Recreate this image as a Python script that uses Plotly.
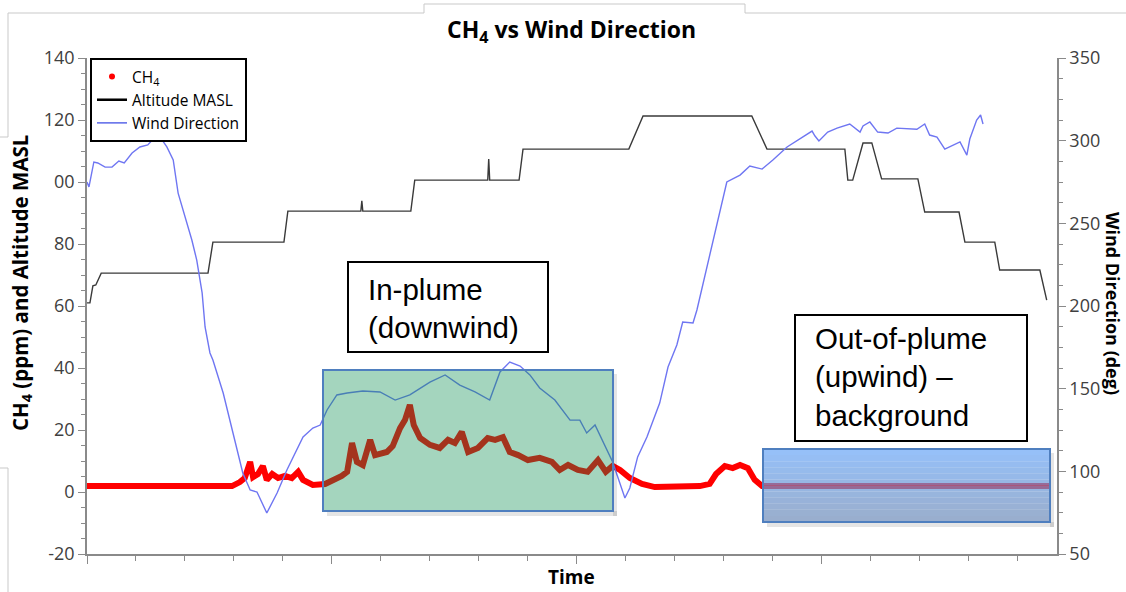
import plotly.graph_objects as go

# ---------------- data (time in minor-tick units) ----------------
ch4_time = [0, 2.96, 3.12, 3.22, 3.33, 3.39, 3.49, 3.59, 3.67, 3.78, 3.90, 4.04, 4.18, 4.31, 4.41,
            4.61, 4.86, 5.06, 5.20, 5.31, 5.41, 5.51, 5.63, 5.78, 5.88, 6.12, 6.24, 6.39, 6.49,
            6.59, 6.67, 6.80, 7.00, 7.20, 7.37, 7.51, 7.65, 7.78, 7.98, 8.18, 8.33, 8.49, 8.63,
            8.80, 9.00, 9.24, 9.49, 9.65, 9.82, 10.02, 10.22, 10.43, 10.59, 10.73, 10.88, 11.08,
            11.33, 11.59, 12.51, 12.71, 12.84, 13.02, 13.18, 13.33, 13.49, 13.63, 13.78, 19.65]
ch4_ppm = [1.9, 1.9, 3.2, 4.5, 9.7, 4.8, 5.8, 8.4, 3.9, 5.8, 4.5, 5.2, 4.5, 6.5, 3.9,
           2.3, 2.6, 3.9, 5.2, 6.5, 15.8, 9.7, 8.7, 16.8, 11.9, 12.9, 14.8, 20.6, 23.2,
           28.1, 21.6, 17.4, 15.2, 14.2, 16.8, 15.8, 19.4, 12.9, 14.2, 17.4, 16.8, 17.7, 12.9,
           11.9, 10.3, 11.0, 9.7, 7.1, 8.7, 7.1, 6.5, 10.3, 6.5, 8.4, 7.1, 4.5,
           2.6, 1.6, 1.9, 2.6, 5.8, 8.4, 7.7, 8.7, 7.7, 3.9, 1.9, 1.9]

alt_time = [0, 0.06, 0.12, 0.18, 0.29, 2.47, 2.57, 4.02, 4.10, 5.59, 5.61, 5.63, 6.61, 6.69,
            8.18, 8.20, 8.22, 8.82, 8.90, 11.06, 11.35, 13.57, 13.88, 15.47, 15.53, 15.63,
            15.84, 16.02, 16.22, 16.96, 17.10, 17.80, 17.92, 18.53, 18.63, 19.45, 19.59]
alt_masl = [61.0, 61.0, 66.5, 66.8, 70.6, 70.6, 80.6, 80.6, 90.6, 90.6, 93.9, 90.6, 90.6, 100.6,
            100.6, 107.4, 100.6, 100.6, 110.6, 110.6, 121.3, 121.3, 110.6, 110.6, 100.6, 100.6,
            112.6, 112.6, 101.0, 101.0, 90.3, 90.3, 80.6, 80.6, 71.6, 71.6, 61.9]

wind_time = [0, 0.04, 0.14, 0.22, 0.37, 0.51, 0.65, 0.76, 0.92, 1.08, 1.24, 1.45, 1.63, 1.76,
             1.86, 2.00, 2.14, 2.24, 2.35, 2.41, 2.51, 2.57, 2.78, 2.98, 3.18, 3.33, 3.47, 3.67,
             3.88, 4.08, 4.41, 4.61, 4.76, 4.90, 5.10, 5.31, 5.63, 5.98, 6.29, 6.59, 7.00, 7.31,
             7.61, 7.92, 8.22, 8.43, 8.63, 8.84, 9.04, 9.24, 9.55, 9.86, 10.06, 10.20, 10.37,
             10.73, 10.98, 11.08, 11.24, 11.43, 11.69, 11.86, 12.04, 12.16, 12.37, 12.45, 12.65,
             12.86, 13.06, 13.33, 13.53, 13.78, 14.00, 14.29, 14.55, 14.80, 14.86, 14.94, 15.12,
             15.31, 15.57, 15.78, 15.84, 15.98, 16.14, 16.35, 16.53, 16.94, 17.10, 17.20, 17.35,
             17.51, 17.82, 17.96, 18.02, 18.16, 18.24, 18.29]
wind_deg = [275.0, 272.0, 287.1, 286.5, 284.0, 284.0, 287.7, 286.5, 292.5, 296.2, 297.4, 304.0,
            296.2, 288.3, 268.3, 253.8, 239.9, 227.8, 207.9, 187.3, 171.6, 167.3, 147.4, 123.2,
            99.0, 88.7, 87.5, 74.8, 86.9, 100.8, 120.8, 126.2, 128.0, 137.1, 146.2, 147.4, 148.6,
            148.0, 143.1, 146.2, 154.0, 158.3, 152.2, 148.0, 143.1, 160.1, 166.1, 163.7, 158.3,
            150.4, 143.1, 131.0, 131.0, 123.2, 128.0, 105.6, 83.9, 89.9, 108.7, 120.8, 141.3,
            163.1, 176.4, 190.3, 189.7, 197.6, 223.6, 250.2, 275.0, 279.2, 284.7, 282.8, 288.3,
            296.2, 301.0, 305.8, 302.8, 299.8, 305.2, 307.6, 310.1, 305.2, 308.9, 311.3, 305.2,
            304.6, 307.6, 306.9, 310.1, 303.4, 302.2, 294.9, 299.2, 291.3, 301.0, 312.5, 315.5,
            310.1]

left_ticks = [-20, 0, 20, 40, 60, 80, 100, 120, 140]
left_ticktext = ["-20", "0", "20", "40", "60", "80", "00", "120", "140"]
right_ticks = [50, 100, 150, 200, 250, 300, 350]
x_major_ticks = [0, 5, 10, 15]

# ---------------- layout geometry ----------------
W, H = 1126, 592
L, R, T, B = 87, 1057, 58, 554


def px(x):
    return (x - L) / (R - L)


def py(y):
    return (B - y) / (B - T)


fig = go.Figure()

fig.add_trace(go.Scatter(x=ch4_time, y=ch4_ppm, mode="lines", line=dict(color="#ff0000", width=6),
                         showlegend=False, name="CH4"))
fig.add_trace(go.Scatter(x=alt_time, y=alt_masl, mode="lines", line=dict(color="#3a3a3a", width=1.4),
                         showlegend=False, name="Altitude MASL"))
fig.add_trace(go.Scatter(x=wind_time, y=wind_deg, mode="lines", line=dict(color="#6f76f2", width=1.4),
                         yaxis="y2", showlegend=False, name="Wind Direction"))

# legend-only entries
fig.add_trace(go.Scatter(x=[None], y=[None], mode="markers", marker=dict(color="#ff0000", size=6),
                         name="CH<sub>4</sub>"))
fig.add_trace(go.Scatter(x=[None], y=[None], mode="lines", line=dict(color="#000000", width=2.5),
                         name="Altitude MASL"))
fig.add_trace(go.Scatter(x=[None], y=[None], mode="lines", line=dict(color="#5b67e8", width=1.5),
                         name="Wind Direction"))

shapes = []
# frame artifacts
frame = "#c9c9c9"
for (x0, y0, x1, y1) in [(8, 13, 424, 13), (424, 13, 424, 4), (424, 4, 745, 4), (745, 4, 745, 13),
                         (745, 13, 1126, 13), (8, 13, 8, 137), (0, 137, 8, 137),
                         (0, 468, 8, 468), (8, 468, 8, 592)]:
    shapes.append(dict(type="line", xref="paper", yref="paper", x0=px(x0), y0=py(y0), x1=px(x1), y1=py(y1),
                       line=dict(color=frame, width=1), layer="above"))

# shadows
for (x0, y0, x1, y1) in [(323, 370, 613, 511), (763, 449, 1050, 522)]:
    shapes.append(dict(type="rect", xref="paper", yref="paper", x0=px(x0 + 4), y0=py(y1 + 5), x1=px(x1 + 4),
                       y1=py(y1), fillcolor="rgba(0,0,0,0.10)", line=dict(width=0), layer="above"))
    shapes.append(dict(type="rect", xref="paper", yref="paper", x0=px(x1), y0=py(y1 + 5), x1=px(x1 + 4),
                       y1=py(y0 + 4), fillcolor="rgba(0,0,0,0.10)", line=dict(width=0), layer="above"))

# green in-plume region
shapes.append(dict(type="rect", xref="paper", yref="paper", x0=px(323), y0=py(511), x1=px(613), y1=py(370),
                   fillcolor="rgba(8,140,80,0.37)", line=dict(color="#4f7fbf", width=2), layer="above"))

# blue out-of-plume region (gradient via strips)
bx0, by0, bx1, by1 = 763, 449, 1050, 522
n = 12
top_c = (105, 165, 245)
bot_c = (110, 140, 185)
for i in range(n):
    f = i / (n - 1)
    c = tuple(int(top_c[k] + (bot_c[k] - top_c[k]) * f) for k in range(3))
    ya = by0 + (by1 - by0) * i / n
    yb = by0 + (by1 - by0) * (i + 1) / n
    shapes.append(dict(type="rect", xref="paper", yref="paper", x0=px(bx0), y0=py(yb), x1=px(bx1), y1=py(ya),
                       fillcolor="rgba(%d,%d,%d,0.7)" % c, line=dict(width=0), layer="above"))
shapes.append(dict(type="rect", xref="paper", yref="paper", x0=px(bx0), y0=py(by1), x1=px(bx1), y1=py(by0),
                   fillcolor="rgba(0,0,0,0)", line=dict(color="#4f7fbf", width=2), layer="above"))

# text boxes
shapes.append(dict(type="rect", xref="paper", yref="paper", x0=px(348), y0=py(352), x1=px(548), y1=py(262),
                   fillcolor="white", line=dict(color="black", width=2), layer="above"))
shapes.append(dict(type="rect", xref="paper", yref="paper", x0=px(795), y0=py(441), x1=px(1027), y1=py(315),
                   fillcolor="white", line=dict(color="black", width=2), layer="above"))

box_font = dict(family="Liberation Sans, Arial", size=29.5, color="black")
annotations = [
    dict(text="In-plume<br>(downwind)", xref="paper", yref="paper", x=px(366), y=py(308),
         xanchor="left", yanchor="middle", align="left", showarrow=False, font=box_font),
    dict(text="Out-of-plume<br>(upwind) –<br>background", xref="paper", yref="paper", x=px(813), y=py(377),
         xanchor="left", yanchor="middle", align="left", showarrow=False, font=box_font),
    dict(text="<b>CH<sub>4</sub> (ppm) and Altitude MASL</b>", xref="paper", yref="paper", x=px(21), y=py(283),
         xanchor="center", yanchor="middle", textangle=-90, showarrow=False,
         font=dict(family="Open Sans", size=20.5, color="black")),
    dict(text="<b>Wind Direction (deg)</b>", xref="paper", yref="paper", x=px(1113), y=py(303),
         xanchor="center", yanchor="middle", textangle=90, showarrow=False,
         font=dict(family="Open Sans", size=18, color="black")),
    dict(text="<b>Time</b>", xref="paper", yref="paper", x=px(571), y=py(577),
         xanchor="center", yanchor="middle", showarrow=False,
         font=dict(family="Open Sans", size=19, color="black")),
    dict(text="<b>CH<sub>4</sub> vs Wind Direction</b>", xref="paper", yref="paper", x=px(571), y=py(30),
         xanchor="center", yanchor="middle", showarrow=False,
         font=dict(family="Open Sans", size=23, color="black")),
]

axis_col = "#8a8a8a"
tick_font = dict(family="Open Sans", size=18, color="#404040")

fig.update_layout(
    width=W, height=H,
    margin=dict(l=L, r=W - R, t=T, b=H - B),
    paper_bgcolor="white", plot_bgcolor="white",
    shapes=shapes, annotations=annotations,
    xaxis=dict(range=[0, 19.8], showgrid=False, zeroline=False, showline=True, linecolor=axis_col, linewidth=1.5,
               tickmode="array", tickvals=x_major_ticks, showticklabels=False, ticks="outside", ticklen=8,
               tickcolor=axis_col, tickwidth=1.2,
               minor=dict(dtick=1, ticks="outside", ticklen=5, tickcolor=axis_col, tickwidth=1, showgrid=False)),
    yaxis=dict(range=[-20, 140], showgrid=False, zeroline=False, showline=True, linecolor=axis_col, linewidth=1.5,
               tickmode="array", tickvals=left_ticks, ticktext=left_ticktext, ticks="outside", ticklen=7,
               tickcolor=axis_col, tickwidth=1.2, tickfont=tick_font,
               minor=dict(dtick=5, tick0=0, ticks="outside", ticklen=4, tickcolor=axis_col, tickwidth=1, showgrid=False)),
    yaxis2=dict(range=[50, 350], overlaying="y", side="right", showgrid=False, zeroline=False, showline=True,
                linecolor=axis_col, linewidth=1.5, tickmode="array", tickvals=right_ticks, ticks="outside",
                ticklen=7, tickcolor=axis_col, tickwidth=1.2, tickfont=tick_font,
                minor=dict(dtick=12.5, tick0=50, ticks="outside", ticklen=4, tickcolor=axis_col, tickwidth=1,
                           showgrid=False)),
    legend=dict(x=px(90), y=py(58), xanchor="left", yanchor="top", bgcolor="white", bordercolor="black",
                borderwidth=2, font=dict(family="Open Sans", size=15.5, color="black"), tracegroupgap=0,
                itemwidth=30),
)

fig.write_html("out.html")
